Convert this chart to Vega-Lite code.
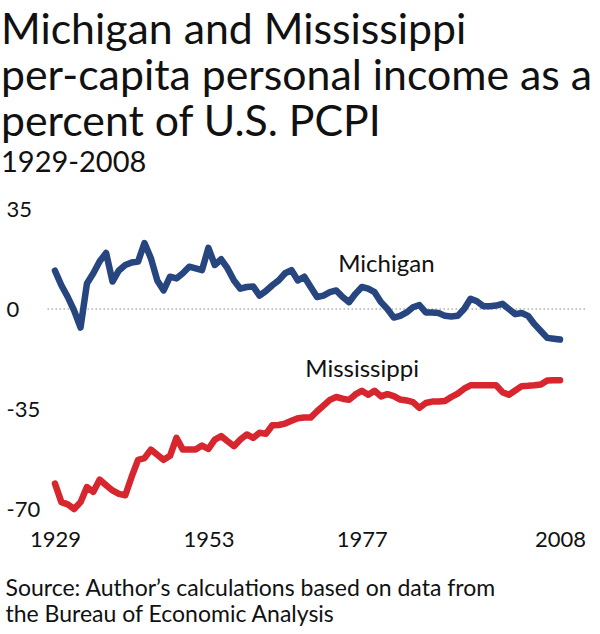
{
  "$schema": "https://vega.github.io/schema/vega-lite/v6.json",
  "width": 540,
  "height": 300,
  "autosize": {"type": "none"},
  "padding": {"left": 45, "top": 209, "right": 15, "bottom": 125},
  "background": "white",
  "config": {
    "font": "Lato",
    "view": {"stroke": null}
  },
  "title": {
    "text": ["Michigan and Mississippi", "per-capita personal income as a", "percent of U.S. PCPI"],
    "subtitle": "1929-2008",
    "anchor": "start",
    "frame": "bounds",
    "fontSize": 42.8,
    "fontWeight": "normal",
    "lineHeight": 46,
    "color": "#111111",
    "subtitleFontSize": 29,
    "subtitleColor": "#111111",
    "subtitlePadding": 4,
    "offset": 20,
    "dx": -4
  },
  "datasets": {
    "pcpi": [
      {"year": 1929, "state": "Michigan", "value": 13.4},
      {"year": 1930, "state": "Michigan", "value": 8.3},
      {"year": 1931, "state": "Michigan", "value": 4.2},
      {"year": 1932, "state": "Michigan", "value": -0.6},
      {"year": 1933, "state": "Michigan", "value": -6.5},
      {"year": 1934, "state": "Michigan", "value": 8.9},
      {"year": 1935, "state": "Michigan", "value": 12.5},
      {"year": 1936, "state": "Michigan", "value": 16.7},
      {"year": 1937, "state": "Michigan", "value": 19.6},
      {"year": 1938, "state": "Michigan", "value": 9.6},
      {"year": 1939, "state": "Michigan", "value": 13.5},
      {"year": 1940, "state": "Michigan", "value": 15.4},
      {"year": 1941, "state": "Michigan", "value": 16.3},
      {"year": 1942, "state": "Michigan", "value": 16.6},
      {"year": 1943, "state": "Michigan", "value": 23.1},
      {"year": 1944, "state": "Michigan", "value": 17.8},
      {"year": 1945, "state": "Michigan", "value": 10.0},
      {"year": 1946, "state": "Michigan", "value": 6.5},
      {"year": 1947, "state": "Michigan", "value": 11.3},
      {"year": 1948, "state": "Michigan", "value": 10.7},
      {"year": 1949, "state": "Michigan", "value": 12.5},
      {"year": 1950, "state": "Michigan", "value": 14.8},
      {"year": 1951, "state": "Michigan", "value": 14.2},
      {"year": 1952, "state": "Michigan", "value": 13.6},
      {"year": 1953, "state": "Michigan", "value": 21.4},
      {"year": 1954, "state": "Michigan", "value": 15.4},
      {"year": 1955, "state": "Michigan", "value": 17.4},
      {"year": 1956, "state": "Michigan", "value": 14.2},
      {"year": 1957, "state": "Michigan", "value": 10.0},
      {"year": 1958, "state": "Michigan", "value": 7.1},
      {"year": 1959, "state": "Michigan", "value": 7.7},
      {"year": 1960, "state": "Michigan", "value": 7.9},
      {"year": 1961, "state": "Michigan", "value": 4.7},
      {"year": 1962, "state": "Michigan", "value": 6.3},
      {"year": 1963, "state": "Michigan", "value": 8.3},
      {"year": 1964, "state": "Michigan", "value": 10.0},
      {"year": 1965, "state": "Michigan", "value": 12.5},
      {"year": 1966, "state": "Michigan", "value": 13.6},
      {"year": 1967, "state": "Michigan", "value": 10.0},
      {"year": 1968, "state": "Michigan", "value": 11.3},
      {"year": 1969, "state": "Michigan", "value": 7.7},
      {"year": 1970, "state": "Michigan", "value": 4.2},
      {"year": 1971, "state": "Michigan", "value": 4.7},
      {"year": 1972, "state": "Michigan", "value": 5.9},
      {"year": 1973, "state": "Michigan", "value": 6.5},
      {"year": 1974, "state": "Michigan", "value": 4.2},
      {"year": 1975, "state": "Michigan", "value": 2.4},
      {"year": 1976, "state": "Michigan", "value": 5.3},
      {"year": 1977, "state": "Michigan", "value": 7.7},
      {"year": 1978, "state": "Michigan", "value": 7.1},
      {"year": 1979, "state": "Michigan", "value": 5.9},
      {"year": 1980, "state": "Michigan", "value": 2.4},
      {"year": 1981, "state": "Michigan", "value": 0.0},
      {"year": 1982, "state": "Michigan", "value": -3.0},
      {"year": 1983, "state": "Michigan", "value": -2.4},
      {"year": 1984, "state": "Michigan", "value": -1.2},
      {"year": 1985, "state": "Michigan", "value": 0.6},
      {"year": 1986, "state": "Michigan", "value": 1.4},
      {"year": 1987, "state": "Michigan", "value": -1.2},
      {"year": 1988, "state": "Michigan", "value": -1.2},
      {"year": 1989, "state": "Michigan", "value": -1.4},
      {"year": 1990, "state": "Michigan", "value": -2.4},
      {"year": 1991, "state": "Michigan", "value": -2.6},
      {"year": 1992, "state": "Michigan", "value": -2.4},
      {"year": 1993, "state": "Michigan", "value": 0.0},
      {"year": 1994, "state": "Michigan", "value": 3.6},
      {"year": 1995, "state": "Michigan", "value": 2.7},
      {"year": 1996, "state": "Michigan", "value": 1.0},
      {"year": 1997, "state": "Michigan", "value": 1.0},
      {"year": 1998, "state": "Michigan", "value": 1.2},
      {"year": 1999, "state": "Michigan", "value": 1.8},
      {"year": 2000, "state": "Michigan", "value": 0.0},
      {"year": 2001, "state": "Michigan", "value": -1.8},
      {"year": 2002, "state": "Michigan", "value": -1.4},
      {"year": 2003, "state": "Michigan", "value": -2.4},
      {"year": 2004, "state": "Michigan", "value": -5.3},
      {"year": 2005, "state": "Michigan", "value": -7.7},
      {"year": 2006, "state": "Michigan", "value": -10.1},
      {"year": 2007, "state": "Michigan", "value": -10.4},
      {"year": 2008, "state": "Michigan", "value": -10.7},
      {"year": 1929, "state": "Mississippi", "value": -61.1},
      {"year": 1930, "state": "Mississippi", "value": -67.6},
      {"year": 1931, "state": "Mississippi", "value": -68.4},
      {"year": 1932, "state": "Mississippi", "value": -70.0},
      {"year": 1933, "state": "Mississippi", "value": -67.6},
      {"year": 1934, "state": "Mississippi", "value": -62.3},
      {"year": 1935, "state": "Mississippi", "value": -64.0},
      {"year": 1936, "state": "Mississippi", "value": -59.7},
      {"year": 1937, "state": "Mississippi", "value": -61.7},
      {"year": 1938, "state": "Mississippi", "value": -63.5},
      {"year": 1939, "state": "Mississippi", "value": -64.7},
      {"year": 1940, "state": "Mississippi", "value": -65.2},
      {"year": 1941, "state": "Mississippi", "value": -58.7},
      {"year": 1942, "state": "Mississippi", "value": -52.8},
      {"year": 1943, "state": "Mississippi", "value": -52.2},
      {"year": 1944, "state": "Mississippi", "value": -49.2},
      {"year": 1945, "state": "Mississippi", "value": -51.0},
      {"year": 1946, "state": "Mississippi", "value": -52.8},
      {"year": 1947, "state": "Mississippi", "value": -51.4},
      {"year": 1948, "state": "Mississippi", "value": -45.1},
      {"year": 1949, "state": "Mississippi", "value": -49.2},
      {"year": 1950, "state": "Mississippi", "value": -49.2},
      {"year": 1951, "state": "Mississippi", "value": -49.2},
      {"year": 1952, "state": "Mississippi", "value": -47.8},
      {"year": 1953, "state": "Mississippi", "value": -49.0},
      {"year": 1954, "state": "Mississippi", "value": -45.7},
      {"year": 1955, "state": "Mississippi", "value": -44.5},
      {"year": 1956, "state": "Mississippi", "value": -46.3},
      {"year": 1957, "state": "Mississippi", "value": -48.0},
      {"year": 1958, "state": "Mississippi", "value": -45.7},
      {"year": 1959, "state": "Mississippi", "value": -43.9},
      {"year": 1960, "state": "Mississippi", "value": -45.1},
      {"year": 1961, "state": "Mississippi", "value": -43.3},
      {"year": 1962, "state": "Mississippi", "value": -43.7},
      {"year": 1963, "state": "Mississippi", "value": -40.7},
      {"year": 1964, "state": "Mississippi", "value": -40.6},
      {"year": 1965, "state": "Mississippi", "value": -40.1},
      {"year": 1966, "state": "Mississippi", "value": -39.1},
      {"year": 1967, "state": "Mississippi", "value": -38.2},
      {"year": 1968, "state": "Mississippi", "value": -38.0},
      {"year": 1969, "state": "Mississippi", "value": -38.0},
      {"year": 1970, "state": "Mississippi", "value": -35.8},
      {"year": 1971, "state": "Mississippi", "value": -33.8},
      {"year": 1972, "state": "Mississippi", "value": -31.8},
      {"year": 1973, "state": "Mississippi", "value": -30.8},
      {"year": 1974, "state": "Mississippi", "value": -31.4},
      {"year": 1975, "state": "Mississippi", "value": -31.8},
      {"year": 1976, "state": "Mississippi", "value": -29.9},
      {"year": 1977, "state": "Mississippi", "value": -28.6},
      {"year": 1978, "state": "Mississippi", "value": -30.0},
      {"year": 1979, "state": "Mississippi", "value": -28.6},
      {"year": 1980, "state": "Mississippi", "value": -30.6},
      {"year": 1981, "state": "Mississippi", "value": -29.8},
      {"year": 1982, "state": "Mississippi", "value": -30.5},
      {"year": 1983, "state": "Mississippi", "value": -31.7},
      {"year": 1984, "state": "Mississippi", "value": -32.0},
      {"year": 1985, "state": "Mississippi", "value": -32.6},
      {"year": 1986, "state": "Mississippi", "value": -34.6},
      {"year": 1987, "state": "Mississippi", "value": -32.9},
      {"year": 1988, "state": "Mississippi", "value": -32.4},
      {"year": 1989, "state": "Mississippi", "value": -32.4},
      {"year": 1990, "state": "Mississippi", "value": -32.2},
      {"year": 1991, "state": "Mississippi", "value": -30.8},
      {"year": 1992, "state": "Mississippi", "value": -29.6},
      {"year": 1993, "state": "Mississippi", "value": -27.9},
      {"year": 1994, "state": "Mississippi", "value": -26.7},
      {"year": 1995, "state": "Mississippi", "value": -26.7},
      {"year": 1996, "state": "Mississippi", "value": -26.7},
      {"year": 1997, "state": "Mississippi", "value": -26.7},
      {"year": 1998, "state": "Mississippi", "value": -26.7},
      {"year": 1999, "state": "Mississippi", "value": -29.1},
      {"year": 2000, "state": "Mississippi", "value": -30.0},
      {"year": 2001, "state": "Mississippi", "value": -28.5},
      {"year": 2002, "state": "Mississippi", "value": -27.0},
      {"year": 2003, "state": "Mississippi", "value": -26.9},
      {"year": 2004, "state": "Mississippi", "value": -26.7},
      {"year": 2005, "state": "Mississippi", "value": -26.4},
      {"year": 2006, "state": "Mississippi", "value": -25.0},
      {"year": 2007, "state": "Mississippi", "value": -24.9},
      {"year": 2008, "state": "Mississippi", "value": -24.9}
    ]
  },
  "layer": [
    {
      "data": {"values": [{}]},
      "mark": {"type": "rule", "color": "#8a8a8a", "strokeWidth": 1, "strokeDash": [1.5, 2.5]},
      "encoding": {"y": {"datum": 0, "type": "quantitative"}}
    },
    {
      "data": {"name": "pcpi"},
      "mark": {"type": "line", "strokeWidth": 6.5, "strokeJoin": "round", "strokeCap": "round"},
      "encoding": {
        "x": {
          "field": "year",
          "type": "quantitative",
          "scale": {"domain": [1927.44, 2011.91], "nice": false, "zero": false},
          "axis": {
            "values": [1929, 1953, 1977, 2008],
            "format": "d",
            "domain": false,
            "ticks": false,
            "tickSize": 0,
            "grid": false,
            "labelFlush": false,
            "labelFontSize": 22,
            "labelColor": "#111111",
            "labelPadding": 20,
            "title": ["Source: Author\u2019s calculations based on data from", "the Bureau of Economic Analysis"],
            "titleFontSize": 23,
            "titleFontWeight": "normal",
            "titleColor": "#111111",
            "titleAlign": "left",
            "titleAnchor": "start",
            "titleBaseline": "alphabetic",
            "titleLineHeight": 26,
            "titleX": -40,
            "titleY": 86
          }
        },
        "y": {
          "field": "value",
          "type": "quantitative",
          "scale": {"domain": [-70, 35], "nice": false, "zero": false},
          "axis": {
            "values": [35, 0, -35, -70],
            "labelExpr": "toString(datum.value)",
            "title": null,
            "domain": false,
            "ticks": false,
            "tickSize": 0,
            "grid": false,
            "labelAlign": "left",
            "labelBaseline": "middle",
            "labelPadding": 39,
            "labelFontSize": 22,
            "labelColor": "#111111"
          }
        },
        "color": {
          "field": "state",
          "type": "nominal",
          "scale": {"domain": ["Michigan", "Mississippi"], "range": ["#27457f", "#d7262e"]},
          "legend": null
        }
      }
    },
    {
      "data": {"name": "pcpi"},
      "transform": [{"filter": "datum.state === 'Michigan' && datum.year === 1973"}],
      "mark": {"type": "text", "align": "left", "baseline": "alphabetic", "dx": 2, "dy": -18, "fontSize": 24, "color": "#111111"},
      "encoding": {
        "x": {"field": "year", "type": "quantitative"},
        "y": {"field": "value", "type": "quantitative"},
        "text": {"field": "state"}
      }
    },
    {
      "data": {"name": "pcpi"},
      "transform": [{"filter": "datum.state === 'Mississippi' && datum.year === 1968"}],
      "mark": {"type": "text", "align": "left", "baseline": "alphabetic", "dx": 1, "dy": -41, "fontSize": 24, "color": "#111111"},
      "encoding": {
        "x": {"field": "year", "type": "quantitative"},
        "y": {"field": "value", "type": "quantitative"},
        "text": {"field": "state"}
      }
    }
  ]
}
